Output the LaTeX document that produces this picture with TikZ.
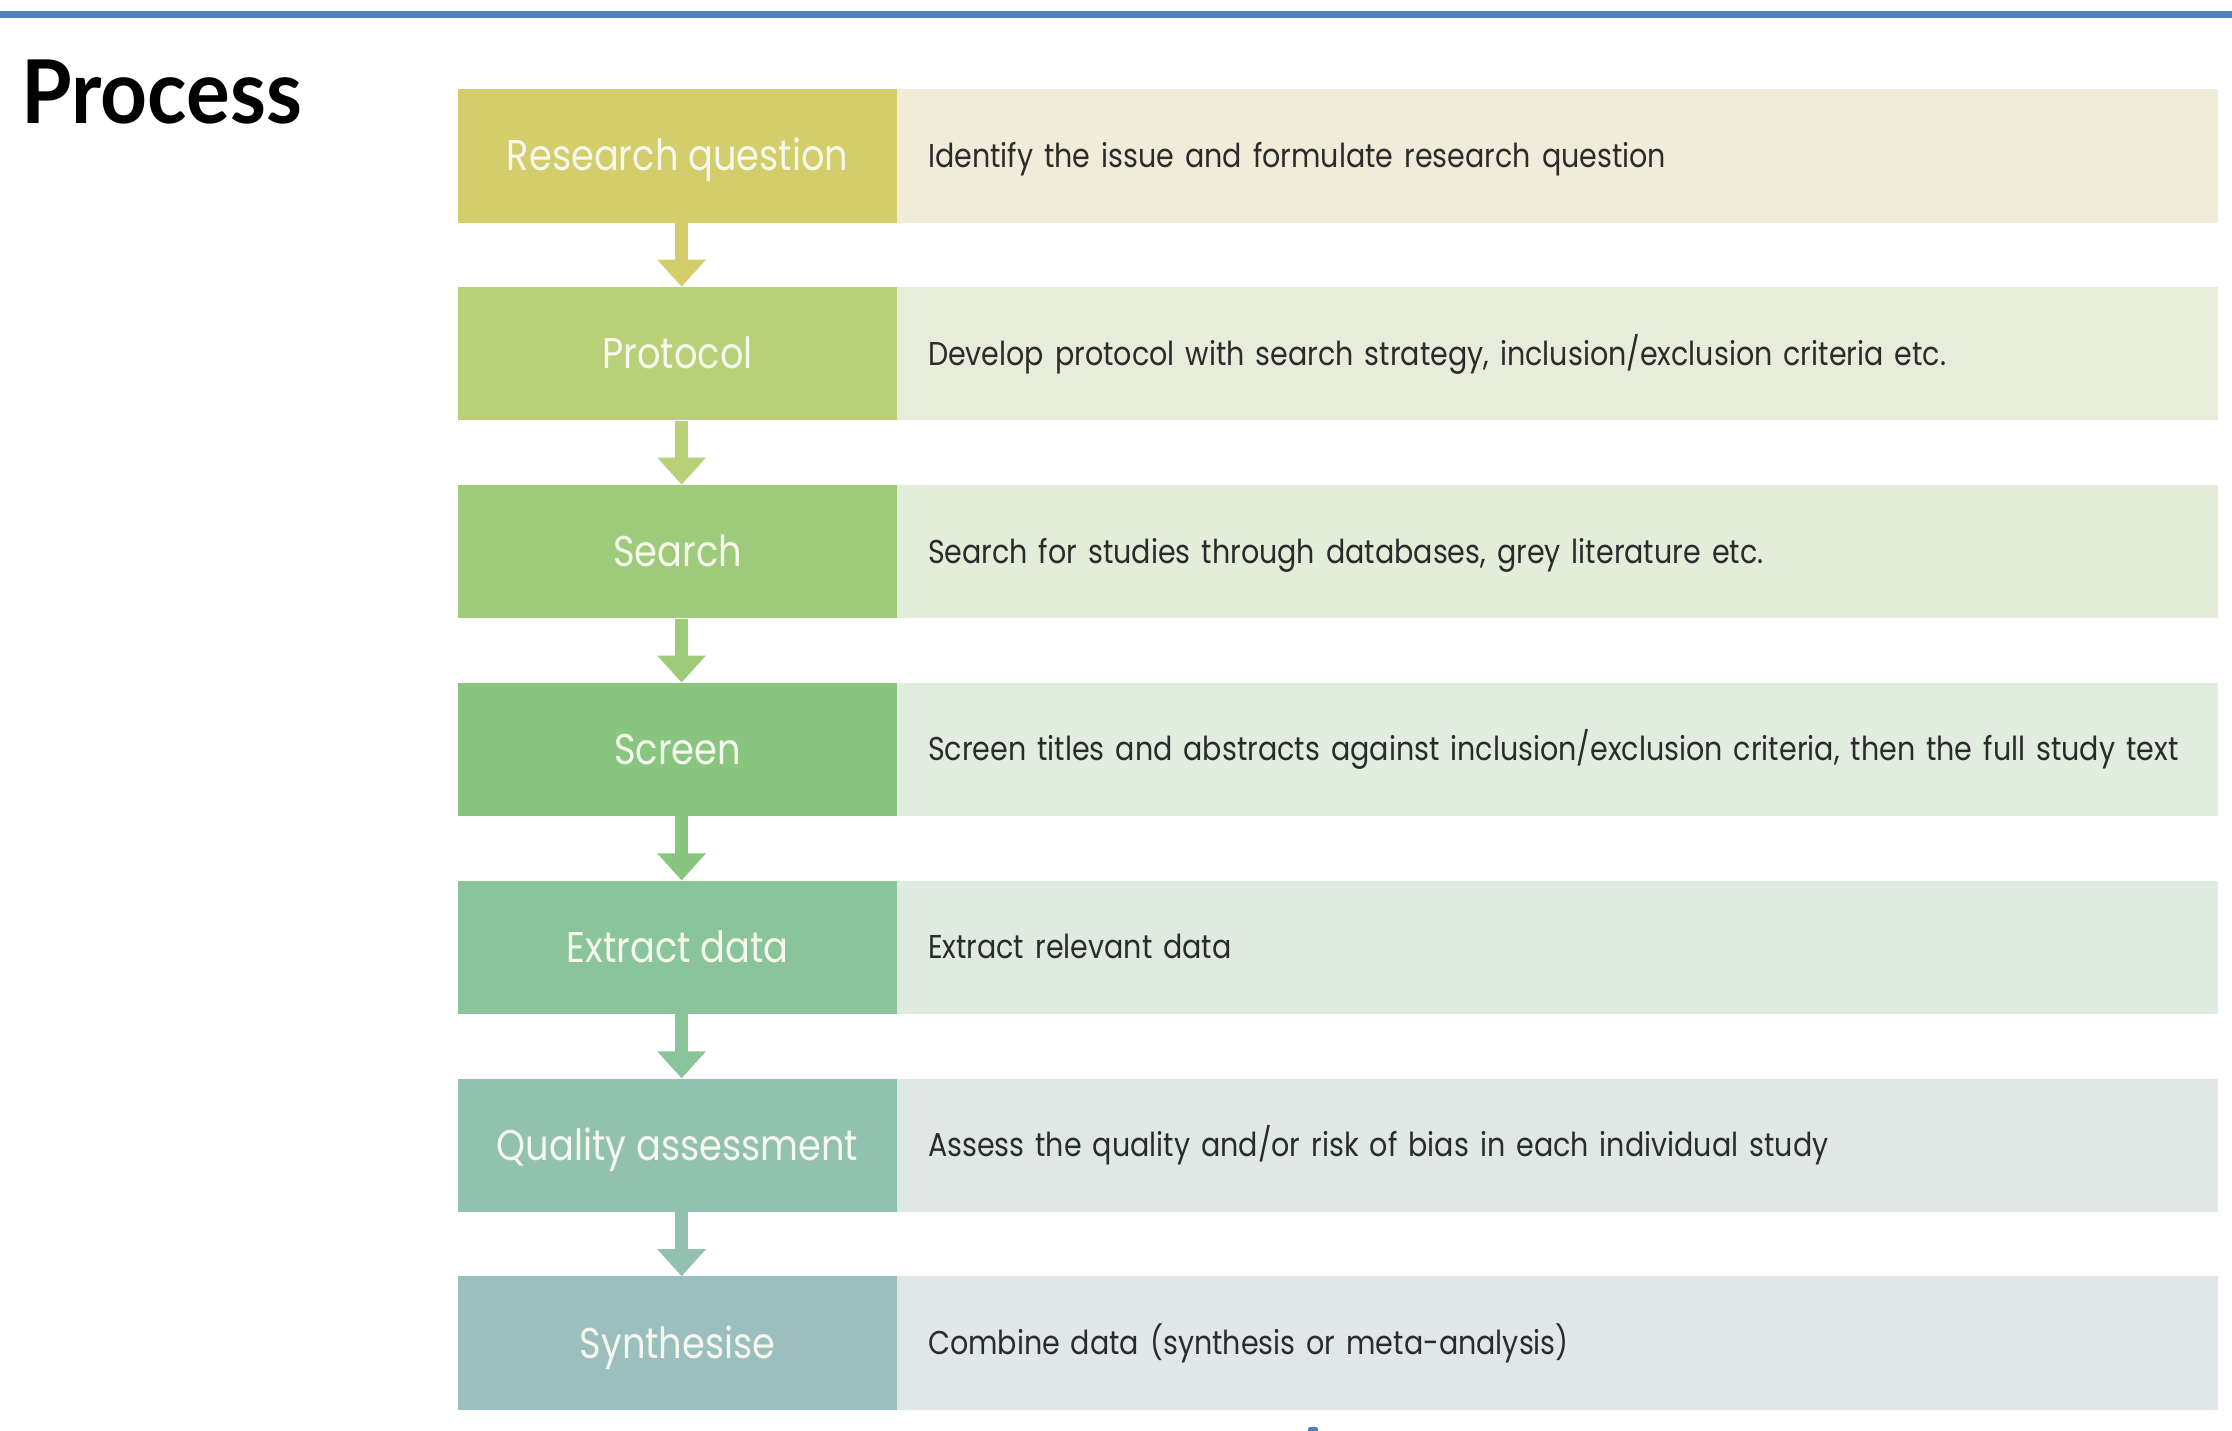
\documentclass[tikz,border=0pt]{standalone}
\usepackage{fontspec}
\usetikzlibrary{arrows.meta}

\newfontfamily\titlefont{Lato}[FakeStretch=0.93]
\newfontfamily\labelfont{Poppins}[FakeStretch=0.855]
\newfontfamily\descfont{Poppins}[FakeStretch=0.865]

\definecolor{topbar}{HTML}{4F81BD}
\definecolor{labeltext}{HTML}{F6F8EE}
\definecolor{desctext}{HTML}{2B2B2B}
% step colours, left column
\definecolor{lA}{HTML}{D3CD6B}
\definecolor{lB}{HTML}{B8D078}
\definecolor{lC}{HTML}{9ECB79}
\definecolor{lD}{HTML}{88C680}
\definecolor{lE}{HTML}{8AC49A}
\definecolor{lF}{HTML}{92C1AF}
\definecolor{lG}{HTML}{9BBFBE}
% step colours, description column
\definecolor{dA}{HTML}{F1ECDA}
\definecolor{dB}{HTML}{E7EDDA}
\definecolor{dC}{HTML}{E3EDDA}
\definecolor{dD}{HTML}{E0EDDF}
\definecolor{dE}{HTML}{DFEBE1}
\definecolor{dF}{HTML}{E0E8E5}
\definecolor{dG}{HTML}{E1E7E9}

\tikzset{
  stepl/.style={rectangle, inner sep=0pt, minimum width=438.4pt,
    minimum height=133.5pt, text=labeltext, text height=30pt, text depth=0pt,
    font=\labelfont\fontsize{43}{43}\selectfont},
  stepd/.style={rectangle, anchor=west, minimum width=1321pt,
    minimum height=133.5pt, text width=1259pt, inner xsep=31pt, inner ysep=0pt,
    align=left, text=desctext, text height=23pt, text depth=0pt,
    font=\descfont\fontsize{33}{33}\selectfont},
  flow/.style={line width=13pt, -{Triangle[width=47pt,length=27pt]}}
}

\begin{document}
\begin{tikzpicture}[x=1pt,y=-1pt]
\useasboundingbox (0,0) rectangle (2232,1430);
\fill[white] (0,0) rectangle (2232,1430);

% header rule and heading
\fill[topbar] (0,11) rectangle (2232,17.5);
\node[anchor=base west, inner sep=0pt,
  font=\titlefont\bfseries\fontsize{88}{88}\selectfont] (title) at (21,123) {Process};

% left column: step names
\node[stepl, fill=lA] (l1) at (677.6,155.75)  {Research question};
\node[stepl, fill=lB] (l2) at (677.6,353.65)  {Protocol};
\node[stepl, fill=lC] (l3) at (677.6,551.55)  {Search};
\node[stepl, fill=lD] (l4) at (677.6,749.45)  {Screen};
\node[stepl, fill=lE] (l5) at (677.6,947.35)  {Extract data};
\node[stepl, fill=lF] (l6) at (677.6,1145.25) {Quality assessment};
\node[stepl, fill=lG] (l7) at (677.6,1343.15) {Synthesise};

% right column: what each step involves
\node[stepd, fill=dA] (d1) at (896.8,155.75)  {Identify the issue and formulate research question};
\node[stepd, fill=dB] (d2) at (896.8,353.65)  {Develop protocol with search strategy, inclusion/exclusion criteria etc.};
\node[stepd, fill=dC] (d3) at (896.8,551.55)  {Search for studies through databases, grey literature etc.};
\node[stepd, fill=dD] (d4) at (896.8,749.45)  {Screen titles and abstracts against inclusion/exclusion criteria, then the full study text};
\node[stepd, fill=dE] (d5) at (896.8,947.35)  {Extract relevant data};
\node[stepd, fill=dF] (d6) at (896.8,1145.25) {Assess the quality and/or risk of bias in each individual study};
\node[stepd, fill=dG] (d7) at (896.8,1343.15) {Combine data (synthesis or meta-analysis)};

% arrows between steps, set slightly right of the column centre
\draw[flow, draw=lA, fill=lA] ([xshift=4pt]l1.south) -- ([xshift=4pt]l2.north);
\draw[flow, draw=lB, fill=lB] ([xshift=4pt]l2.south) -- ([xshift=4pt]l3.north);
\draw[flow, draw=lC, fill=lC] ([xshift=4pt]l3.south) -- ([xshift=4pt]l4.north);
\draw[flow, draw=lD, fill=lD] ([xshift=4pt]l4.south) -- ([xshift=4pt]l5.north);
\draw[flow, draw=lE, fill=lE] ([xshift=4pt]l5.south) -- ([xshift=4pt]l6.north);
\draw[flow, draw=lF, fill=lF] ([xshift=4pt]l6.south) -- ([xshift=4pt]l7.north);

% small blue mark at the lower edge
\fill[topbar, rounded corners=1.5pt] (1308,1427) rectangle (1318,1432);
\end{tikzpicture}
\end{document}
